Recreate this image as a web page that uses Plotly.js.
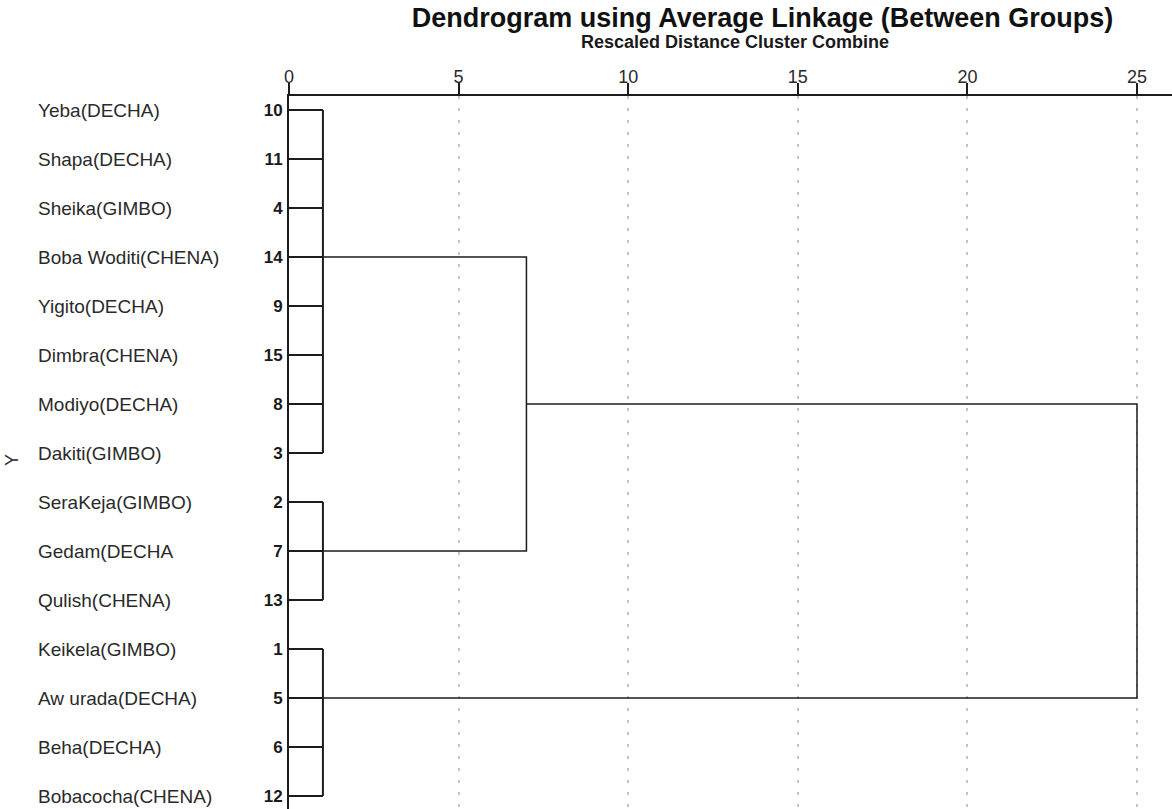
<!DOCTYPE html>
<html>
<head>
<meta charset="utf-8">
<script src="https://cdn.plot.ly/plotly-3.0.1.min.js"></script>
<style>html,body{margin:0;padding:0;background:#fff;}#chart{width:1172px;height:809px;}</style>
</head>
<body>
<div id="chart"></div>
<script>
// Leaves, top to bottom
const leafNames = ["Yeba(DECHA)", "Shapa(DECHA)", "Sheika(GIMBO)", "Boba Woditi(CHENA)", "Yigito(DECHA)",
  "Dimbra(CHENA)", "Modiyo(DECHA)", "Dakiti(GIMBO)", "SeraKeja(GIMBO)", "Gedam(DECHA",
  "Qulish(CHENA)", "Keikela(GIMBO)", "Aw urada(DECHA)", "Beha(DECHA)", "Bobacocha(CHENA)"];
const leafIds = ["10", "11", "4", "14", "9", "15", "8", "3", "2", "7", "13", "1", "5", "6", "12"];

// First-level clusters (leaf rows first..last joined at a rescaled distance)
const clusterFirstRow = [0, 8, 11];
const clusterLastRow = [7, 10, 14];
const clusterHeight = [1, 1, 1];

// Higher merges: left branch row/start height, right branch row/start height, merge height
const mergeLeftRow = [3, 6];
const mergeLeftFrom = [1, 7];
const mergeRightRow = [9, 12];
const mergeRightFrom = [1, 1];
const mergeHeight = [7, 25];

const xTicks = [0, 5, 10, 15, 20, 25];

const FONT = "Liberation Sans, Arial, sans-serif";
const LINE = "#1c1c1c";

// Build leaf line segments
const leafX = [], leafY = [];
leafNames.forEach((n, r) => {
  let h = 0;
  clusterFirstRow.forEach((f, i) => { if (r >= f && r <= clusterLastRow[i]) h = clusterHeight[i]; });
  leafX.push(0, h, null); leafY.push(r, r, null);
});
clusterFirstRow.forEach((f, i) => {
  leafX.push(clusterHeight[i], clusterHeight[i], null);
  leafY.push(f, clusterLastRow[i], null);
});

const mX = [], mY = [];
mergeHeight.forEach((h, i) => {
  mX.push(mergeLeftFrom[i], h, h, mergeRightFrom[i], null);
  mY.push(mergeLeftRow[i], mergeLeftRow[i], mergeRightRow[i], mergeRightRow[i], null);
});

const traces = [
  {type: "scatter", mode: "lines", x: leafX, y: leafY, line: {color: LINE, width: 2}, hoverinfo: "skip", showlegend: false},
  {type: "scatter", mode: "lines", x: mX, y: mY, line: {color: LINE, width: 1.5}, hoverinfo: "skip", showlegend: false}
];

const L = 289, W = 1172, H = 809, T = 96;
const plotW = W - L;
const annotations = leafNames.map((n, r) => ({
  text: n, xref: "paper", yref: "y", x: (36 - L) / plotW, y: r,
  xanchor: "left", yanchor: "middle", showarrow: false,
  font: {family: FONT, size: 19, color: "#2a2a2a"}
}));
annotations.push({
  text: "Y", xref: "paper", yref: "paper", x: (12 - L) / plotW, y: (H - 460) / (H - T),
  xanchor: "center", yanchor: "middle", showarrow: false, textangle: -90,
  font: {family: FONT, size: 18, color: "#2a2a2a"}
});
annotations.push({
  text: "<b>Rescaled Distance Cluster Combine</b>", xref: "paper", yref: "paper",
  x: (735 - L) / plotW, y: (H - 42) / (H - T), xanchor: "center", yanchor: "middle", showarrow: false,
  font: {family: FONT, size: 18, color: "#1a1a1a"}
});

const layout = {
  width: W, height: H,
  margin: {l: L, r: 0, t: T, b: 0},
  paper_bgcolor: "#fff", plot_bgcolor: "#fff",
  title: {
    text: "<b>Dendrogram using Average Linkage (Between Groups)</b>",
    x: 762.5 / W, xanchor: "center", xref: "container",
    y: 1 - 18 / H, yanchor: "middle", yref: "container",
    font: {family: FONT, size: 27, color: "#111"}
  },
  xaxis: {
    side: "top", range: [0, (W - L) / 33.92], tickvals: xTicks, ticktext: xTicks.map(String),
    ticks: "outside", ticklen: 11, tickwidth: 2, tickcolor: LINE, ticklabelstandoff: -7,
    showline: true, linewidth: 2, linecolor: LINE,
    showgrid: true, gridcolor: "#c4c4c4", griddash: "3px,9px", gridwidth: 2,
    zeroline: false, fixedrange: true,
    tickfont: {family: FONT, size: 18, color: "#2a2a2a"}
  },
  yaxis: {
    range: [(H - 110) / 49, -(110 - T) / 49],
    tickvals: leafIds.map((d, i) => i), ticktext: leafIds,
    ticks: "", showline: true, linewidth: 2, linecolor: LINE,
    showgrid: false, zeroline: false, fixedrange: true, ticklabelstandoff: 1,
    tickfont: {family: FONT, size: 17, color: "#1a1a1a", weight: "bold"}
  },
  annotations: annotations,
  showlegend: false
};

Plotly.newPlot("chart", traces, layout, {staticPlot: true, displayModeBar: false});
</script>
</body>
</html>
